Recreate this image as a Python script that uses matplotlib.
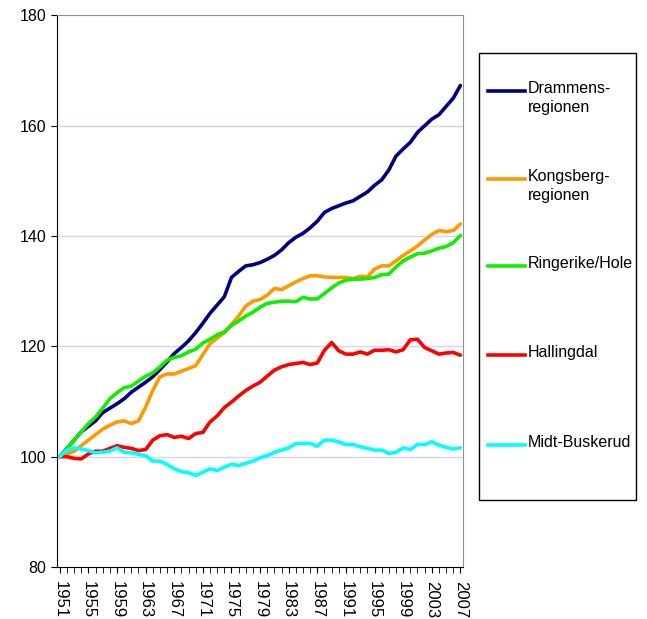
import matplotlib.pyplot as plt
from matplotlib.lines import Line2D
from matplotlib.patches import Rectangle
import numpy as np

plt.rcParams['font.family'] = ['Liberation Sans', 'DejaVu Sans']

years = np.arange(1951, 2008)

drammens = [100, 101.5, 103, 104.5, 105.5, 106.5, 108, 108.8, 109.6, 110.5,
            111.7, 112.6, 113.5, 114.5, 115.8, 117.2, 118.7, 119.8, 121, 122.5,
            124.2, 126, 127.5, 129, 132.5, 133.6, 134.6, 134.8, 135.2, 135.8,
            136.5, 137.5, 138.8, 139.8, 140.5, 141.5, 142.7, 144.3, 145, 145.5,
            146, 146.4, 147.2, 148, 149.2, 150.2, 152, 154.5, 155.8, 157,
            158.8, 160, 161.2, 162, 163.5, 165, 167.3]
kongsberg = [100, 100.5, 101, 102, 103, 104, 105, 105.7, 106.3, 106.5,
             106, 106.5, 109, 112, 114.5, 115, 115, 115.5, 116, 116.5,
             118.5, 120.5, 121.5, 122.5, 124, 125.5, 127.3, 128.2, 128.5, 129.3,
             130.5, 130.3, 131, 131.7, 132.3, 132.8, 132.8, 132.6, 132.5, 132.5,
             132.5, 132.3, 132.7, 132.6, 134, 134.6, 134.6, 135.5, 136.5, 137.3,
             138.2, 139.3, 140.3, 141, 140.8, 141, 142.2]
ringerike = [100, 101.5, 103, 104.5, 106, 107.2, 108.8, 110.5, 111.6, 112.5,
             112.8, 113.7, 114.6, 115.2, 116.3, 117.5, 118, 118.3, 119, 119.5,
             120.6, 121.3, 122.1, 122.6, 123.8, 124.6, 125.5, 126.2, 127.1, 127.8,
             128, 128.2, 128.2, 128.1, 128.9, 128.6, 128.6, 129.6, 130.6, 131.5,
             132, 132.2, 132.2, 132.3, 132.5, 133, 133.1, 134.4, 135.5, 136.2,
             136.8, 136.9, 137.3, 137.8, 138.1, 138.8, 140.1]
hallingdal = [100, 100, 99.7, 99.6, 100.5, 101, 101, 101.5, 102, 101.7,
              101.5, 101.1, 101.3, 103, 103.8, 104, 103.5, 103.7, 103.3, 104.2,
              104.4, 106.3, 107.4, 108.9, 109.9, 111, 112, 112.8, 113.5, 114.6,
              115.7, 116.3, 116.7, 116.9, 117.1, 116.7, 117, 119.3, 120.7, 119.2,
              118.6, 118.6, 119, 118.6, 119.3, 119.3, 119.4, 119, 119.4, 121.2,
              121.3, 119.8, 119.2, 118.6, 118.8, 118.9, 118.4]
midt_buskerud = [100, 101.2, 101.6, 101.4, 101.1, 100.7, 100.8, 101, 101.6, 100.8,
                 100.7, 100.4, 100.2, 99.2, 99.2, 98.6, 97.8, 97.3, 97.1, 96.6,
                 97.2, 97.8, 97.5, 98.1, 98.6, 98.4, 98.8, 99.2, 99.8, 100.2,
                 100.8, 101.2, 101.6, 102.4, 102.4, 102.4, 101.9, 103, 103, 102.7,
                 102.2, 102.2, 101.8, 101.5, 101.2, 101.2, 100.6, 100.8, 101.6, 101.3,
                 102.2, 102.2, 102.7, 102.1, 101.7, 101.4, 101.6]

names = ['Drammens-\nregionen', 'Kongsberg-\nregionen', 'Ringerike/Hole',
         'Hallingdal', 'Midt-Buskerud']
series = [drammens, kongsberg, ringerike, hallingdal, midt_buskerud]
colors = ['#000080', '#FF9900', '#11EE00', '#FF0000', '#00FFFF']

fig = plt.figure(figsize=(6.47, 6.19), dpi=100)
ax = fig.add_axes([0.088, 0.084, 0.628, 0.891])

for vals, c in zip(series, colors):
    ax.plot(years, vals, color=c, lw=2.6, solid_capstyle='round', zorder=3)

ax.set_ylim(80, 180)
ax.set_xlim(1950.6, 2007.4)
ax.set_yticks(range(80, 181, 20))
ax.set_xticks(range(1951, 2008, 4))
ax.set_xticks(years, minor=True)
ax.set_xticklabels([str(y) for y in range(1951, 2008, 4)], rotation=-90)
for y in range(100, 180, 20):
    ax.axhline(y, color='#d4d4f4', lw=1, zorder=1)

for s in ['top', 'right']:
    ax.spines[s].set_color('#909090')
for s in ['left', 'bottom']:
    ax.spines[s].set_color('black')
ax.tick_params(axis='y', labelsize=11.5, length=4, direction='out')
ax.tick_params(axis='x', which='both', labelsize=12, length=4, direction='out',
               pad=6)

# legend box drawn in figure pixels
W, H = 647, 619
fig.patches.append(Rectangle((479 / W, 1 - 500 / H), 157 / W, 447 / H,
                             transform=fig.transFigure, fill=False,
                             edgecolor='black', lw=1))
ys = [91, 179, 266, 355, 445]
for name, c, yy in zip(names, colors, ys):
    fig.add_artist(Line2D([488 / W, 525 / W], [1 - yy / H, 1 - yy / H],
                          color=c, lw=2.6, transform=fig.transFigure))
    fig.text(528 / W, 1 - (yy - 10) / H, name, fontsize=11.5, va='top',
             ha='left', linespacing=1.3)

fig.savefig('out.png', dpi=100)
